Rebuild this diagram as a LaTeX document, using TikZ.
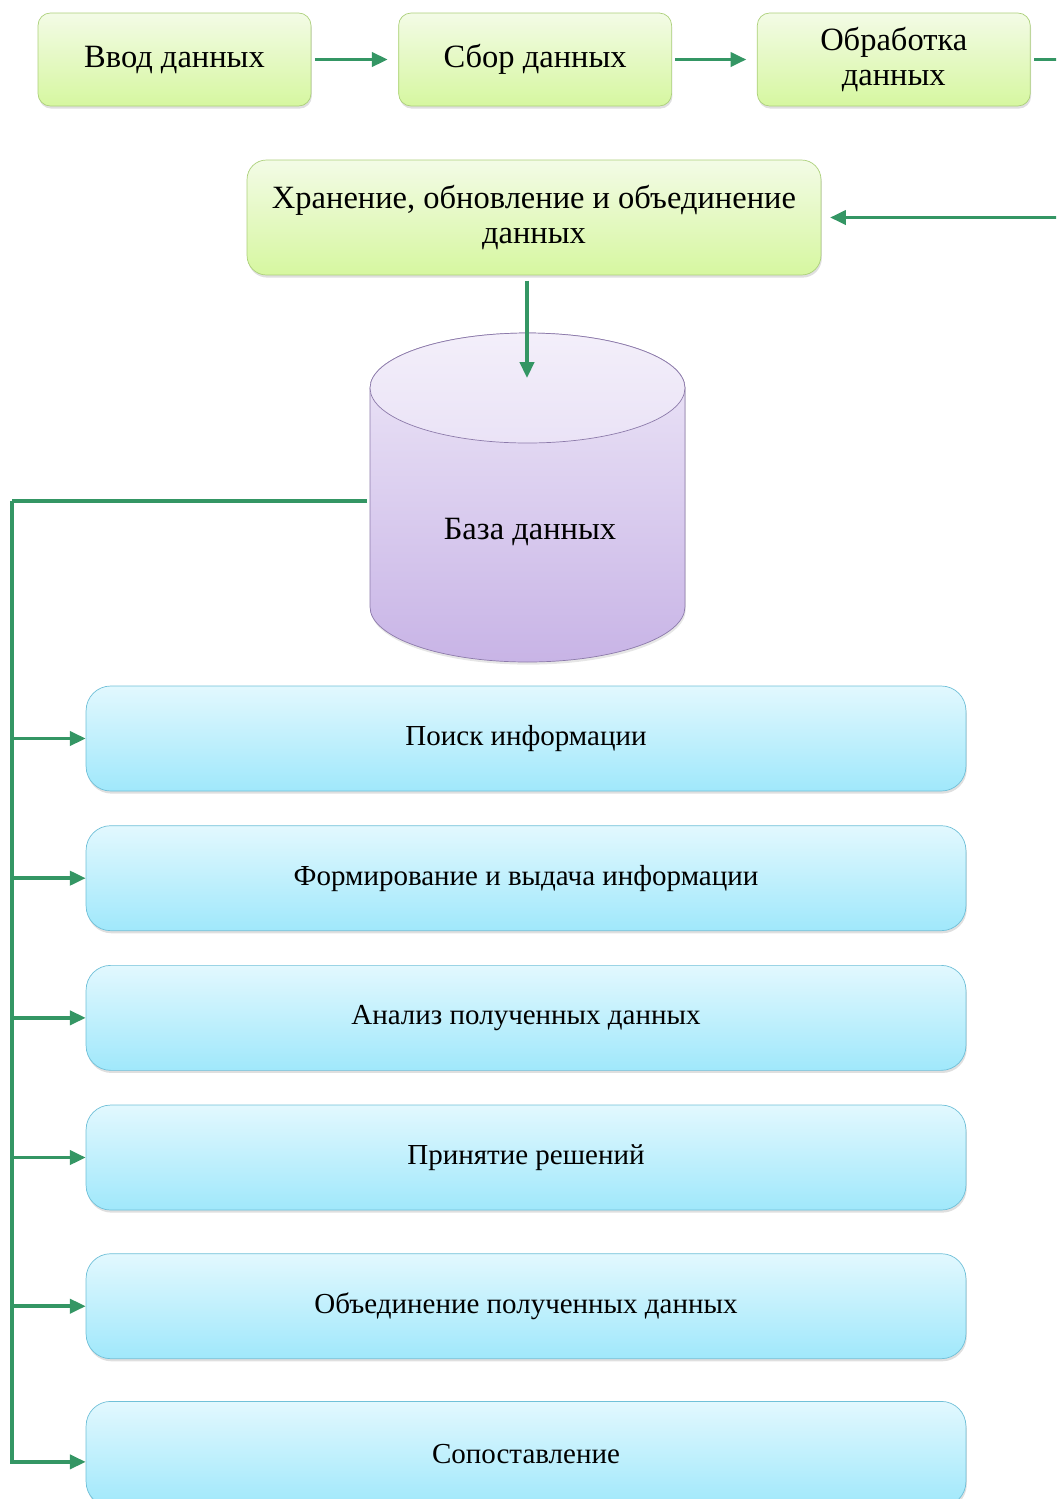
\documentclass[tikz,border=0pt]{standalone}
\usepackage{fontspec}
\setmainfont{Liberation Serif}
\usetikzlibrary{positioning, arrows.meta, shadows}
\usepackage{xcolor}

\definecolor{flowgreen}{RGB}{52,150,100}
\definecolor{limetop}{RGB}{243,251,230}
\definecolor{limebot}{RGB}{214,247,160}
\definecolor{limeline}{RGB}{172,208,122}
\definecolor{skytop}{RGB}{226,248,254}
\definecolor{skybot}{RGB}{160,232,251}
\definecolor{skyline}{RGB}{112,192,216}
\definecolor{lavtop}{RGB}{238,232,248}
\definecolor{lavbot}{RGB}{200,180,230}
\definecolor{lavline}{RGB}{140,122,170}

\begin{document}
\begin{tikzpicture}[
                x=0.02cm, y=-0.02cm,
                stepbox/.style={rectangle, draw=limeline, rounded corners=7pt, minimum width=5.46cm, minimum height=1.86cm, align=center, top color=limetop, bottom color=limebot, font=\fontsize{18.5}{20}\selectfont, drop shadow={shadow xshift=0.5pt, shadow yshift=-1.5pt, opacity=0.25}},
                taskbox/.style={rectangle, draw=skyline, rounded corners=14pt, minimum width=17.6cm, minimum height=2.1cm, align=center, top color=skytop, bottom color=skybot, font=\fontsize{16.5}{19}\selectfont, drop shadow={shadow xshift=0.5pt, shadow yshift=-1.5pt, opacity=0.25}},
                arrow/.style={-{Triangle[length=9pt, width=8pt]}, line width=2pt, flowgreen},
                link/.style={line width=2pt, flowgreen}
            ]
            \useasboundingbox (0,0) rectangle (1056,1499);
            \clip (0,0) rectangle (1056,1499);

            % top row
            \node[stepbox] (input) at (174.5,59.5) {Ввод данных};
            \node[stepbox, right=1.74cm of input] (collect) {Сбор данных};
            \node[stepbox, right=1.7cm of collect] (process) {Обработка\\данных};
            \node[stepbox, rounded corners=11pt, minimum width=11.48cm, minimum height=2.3cm] (store) at (534,217.5) {Хранение, обновление и объединение\\данных};

            \coordinate (outtop) at (1060,59.5);
            \coordinate (inright) at (1060,217.5);

            % database
            \shade[top color=lavtop, bottom color=lavbot, draw=lavline, drop shadow={shadow xshift=0.5pt, shadow yshift=-1.5pt, opacity=0.2}]
                (370,388) -- (370,607) arc[start angle=180, end angle=360, x radius=3.15cm, y radius=1.1cm]
                -- (685,388) arc[start angle=0, end angle=180, x radius=3.15cm, y radius=1.1cm] -- cycle;
            \shade[top color=lavtop!70!white, bottom color=lavtop!90!lavbot, draw=lavline] (527.5,388) ellipse[x radius=3.15cm, y radius=1.1cm];
            \node[font=\fontsize{18.5}{20}\selectfont] (db) at (530,532) {База данных};
            \coordinate (dbtop) at (527,378);
            \coordinate (dbleft) at (367,501);
            \coordinate (trunk) at (12,501);

            % tasks
            \node[taskbox] (search) at (526,738.5) {Поиск информации};
            \node[taskbox, below=0.68cm of search] (issue) {Формирование и выдача информации};
            \node[taskbox, below=0.68cm of issue] (analysis) {Анализ полученных данных};
            \node[taskbox, below=0.68cm of analysis] (decision) {Принятие решений};
            \node[taskbox, below=0.86cm of decision] (merge) {Объединение полученных данных};
            \node[taskbox, below=0.84cm of merge] (compare) {Сопоставление};

            \draw[arrow, shorten <=2pt, shorten >=6pt] (input) -- (collect);
            \draw[arrow, shorten <=2pt, shorten >=6pt] (collect) -- (process);
            \draw[link, shorten <=2pt] (process.east) -- (outtop);
            \draw[arrow, shorten >=5pt] (inright) -- (store.east);
            \draw[arrow, shorten <=3pt] (store.south -| dbtop) -- (dbtop);

            \draw[link] (dbleft) -- (trunk);
            \draw[arrow] (trunk) |- (search.west);
            \draw[arrow] (trunk) |- (issue.west);
            \draw[arrow] (trunk) |- (analysis.west);
            \draw[arrow] (trunk) |- (decision.west);
            \draw[arrow] (trunk) |- (merge.west);
            \draw[arrow] (trunk) |- ([yshift=-0.16cm]compare.west);
        \end{tikzpicture}
\end{document}
